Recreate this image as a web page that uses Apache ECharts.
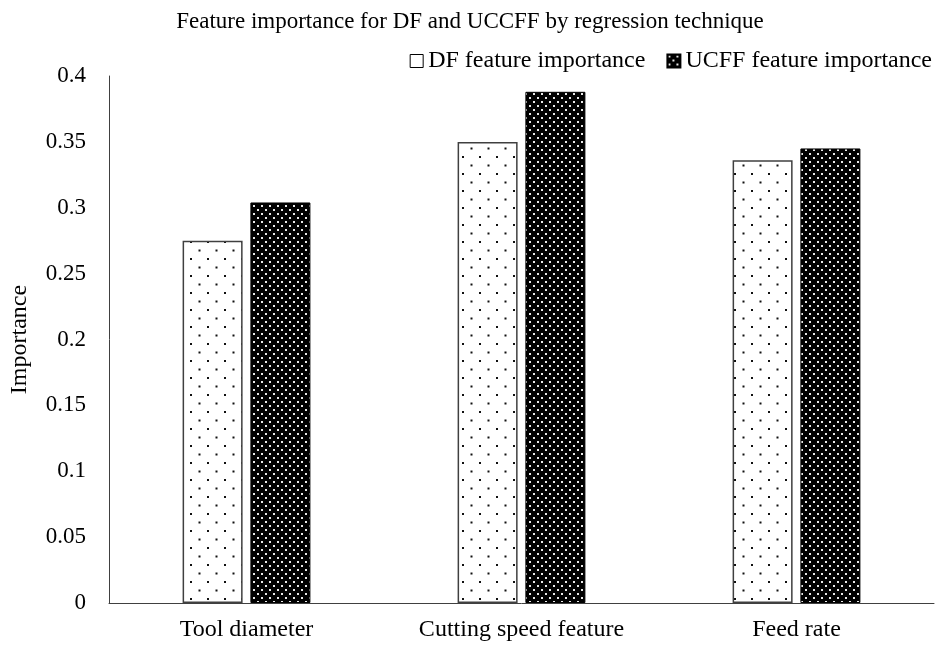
<!DOCTYPE html>
<html><head><meta charset="utf-8">
<script src="https://cdn.jsdelivr.net/npm/echarts@6/dist/echarts.min.js"></script>
<style>html,body{margin:0;padding:0;background:#fff}#c{width:940px;height:646px}</style>
</head><body><div id="c"></div>
<script>
const categories = ['Tool diameter', 'Cutting speed feature', 'Feed rate'];
const dfValues = [0.275, 0.350, 0.336];
const ucffValues = [0.304, 0.388, 0.345];
const seriesNames = ['DF feature importance', 'UCFF feature importance'];
const titleText = 'Feature importance for DF and UCCFF by regression technique';

function makeTile(size, bg, fg, dots, d) {
  const c = document.createElement('canvas');
  c.width = size; c.height = size;
  const g = c.getContext('2d');
  g.fillStyle = bg; g.fillRect(0, 0, size, size);
  g.fillStyle = fg;
  dots.forEach(p => g.fillRect(p[0], p[1], d, d));
  return c;
}
const dfTile = makeTile(17, '#ffffff', '#111111', [[3, 3], [11.5, 11.5]], 2);
const ucTile = makeTile(8, '#000000', '#e8e8e8', [[1, 1], [5, 5]], 2);

const font = '"Liberation Serif", "Times New Roman", serif';
const chart = echarts.init(document.getElementById('c'), null, {renderer: 'canvas'});
chart.setOption({
  animation: false,
  backgroundColor: '#fff',
  title: {
    text: titleText, left: 'center', top: 5,
    textStyle: {fontFamily: font, fontSize: 23, fontWeight: 'normal', color: '#000'}
  },
  legend: {
    right: 8, top: 49, padding: 0, itemWidth: 13, itemHeight: 13, itemGap: 21,
    icon: 'rect',
    textStyle: {fontFamily: font, fontSize: 24, color: '#000'},
    data: [
      {name: seriesNames[0], itemStyle: {color: '#fff', borderColor: '#000', borderWidth: 1}},
      {name: seriesNames[1]}
    ]
  },
  grid: {left: 106, right: 6, top: 76, bottom: 43},
  xAxis: {
    type: 'category', data: categories,
    axisLine: {lineStyle: {color: '#404040', width: 1}},
    axisTick: {show: false},
    axisLabel: {fontFamily: font, fontSize: 24, color: '#000', margin: 15}
  },
  yAxis: {
    type: 'value', min: 0, max: 0.4, interval: 0.05,
    name: 'Importance', nameLocation: 'middle', nameGap: 77,
    nameTextStyle: {fontFamily: font, fontSize: 24, color: '#000'},
    axisLine: {show: true, lineStyle: {color: '#404040', width: 1}},
    axisTick: {show: false},
    splitLine: {show: false},
    axisLabel: {fontFamily: font, fontSize: 23, color: '#000', margin: 23,
      formatter: v => String(parseFloat(v.toFixed(2)))}
  },
  series: [
    {
      name: seriesNames[0], type: 'bar', data: dfValues,
      barWidth: 60, barGap: '13%',
      itemStyle: {color: {image: dfTile, repetition: 'repeat'}, borderColor: '#404040', borderWidth: 1.5}
    },
    {
      name: seriesNames[1], type: 'bar', data: ucffValues,
      barWidth: 60,
      itemStyle: {color: {image: ucTile, repetition: 'repeat'}, borderColor: '#000', borderWidth: 1}
    }
  ]
});
</script></body></html>
